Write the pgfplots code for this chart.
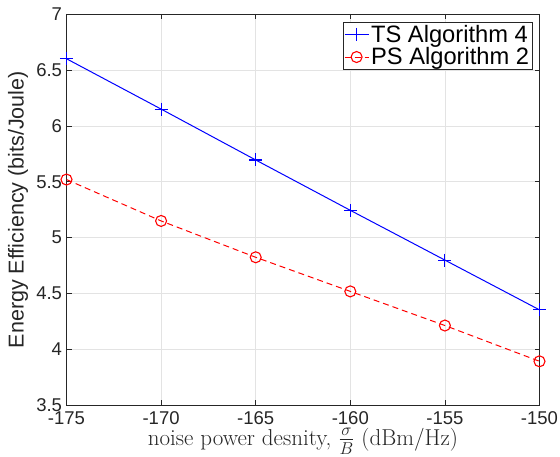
\documentclass[border=0pt]{standalone}
\usepackage{fontspec}
\setsansfont{Liberation Sans}
\usepackage{pgfplots}
\pgfplotsset{compat=1.18}
\definecolor{axgray}{gray}{0.15}
\definecolor{gridgray}{gray}{0.89}
\begin{document}
\begin{tikzpicture}
\begin{axis}[
  name=ax,
  scale only axis, width=473bp, height=391.5bp,
  xmin=-175, xmax=-150, ymin=3.5, ymax=7,
  xtick={-175,-170,-165,-160,-155,-150},
  ytick={3.5,4,4.5,5,5.5,6,6.5,7},
  /pgf/number format/assume math mode=true,
  tick label style={font=\sffamily\fontsize{18.5bp}{20bp}\selectfont, text=axgray},
  xticklabel style={yshift=-3bp},
  yticklabel style={xshift=-1bp},
  grid=major, grid style={gridgray, line width=0.6bp},
  axis line style={axgray, line width=0.7bp},
  tick style={axgray, line width=0.7bp},
  major tick length=5bp, tick align=inside,
  clip mode=individual,
  xlabel={noise power desnity, $\frac{\sigma}{B}$ (dBm/Hz)},
  xlabel style={font=\fontsize{23bp}{25bp}\selectfont, text=axgray,
    at={(axis description cs:0.5,-0.1027)}, anchor=base},
  ylabel={Energy Efficiency (bits/Joule)},
  ylabel style={font=\sffamily\fontsize{21.5bp}{23bp}\selectfont, text=axgray,
    at={(axis description cs:-0.0909,0.5)}, anchor=base},
  legend style={at={(axis description cs:1,1)}, anchor=north east,
    xshift=-7bp, yshift=-7.7bp,
    font=\sffamily\fontsize{23.7bp}{25bp}\selectfont, draw=axgray, line width=0.7bp,
    inner xsep=1bp, inner ysep=1bp, row sep=0bp, cells={anchor=west}},
  legend image code/.code={\draw[mark repeat=2,mark phase=2,#1] plot coordinates {(0bp,0bp) (12bp,0bp) (24bp,0bp)};},
]
\addplot[color=blue, line width=1bp, mark=+, mark size=6.5bp, mark options={solid, draw=blue, line width=1.1bp}]
  coordinates {(-175,6.6)(-170,6.15)(-165,5.695)(-160,5.245)(-155,4.8)(-150,4.355)};
\addlegendentry{TS Algorithm 4}
\addplot[color=red, line width=1bp, dash pattern=on 6bp off 4bp, mark=o, mark size=5.5bp, mark options={solid, draw=red, line width=1.1bp}]
  coordinates {(-175,5.52)(-170,5.15)(-165,4.825)(-160,4.52)(-155,4.215)(-150,3.895)};
\addlegendentry{PS Algorithm 2}
\end{axis}
\pgfresetboundingbox
\useasboundingbox ([xshift=-66.5bp,yshift=-51.5bp]ax.south west) rectangle ([xshift=20.5bp,yshift=14bp]ax.north east);
\end{tikzpicture}
\end{document}
